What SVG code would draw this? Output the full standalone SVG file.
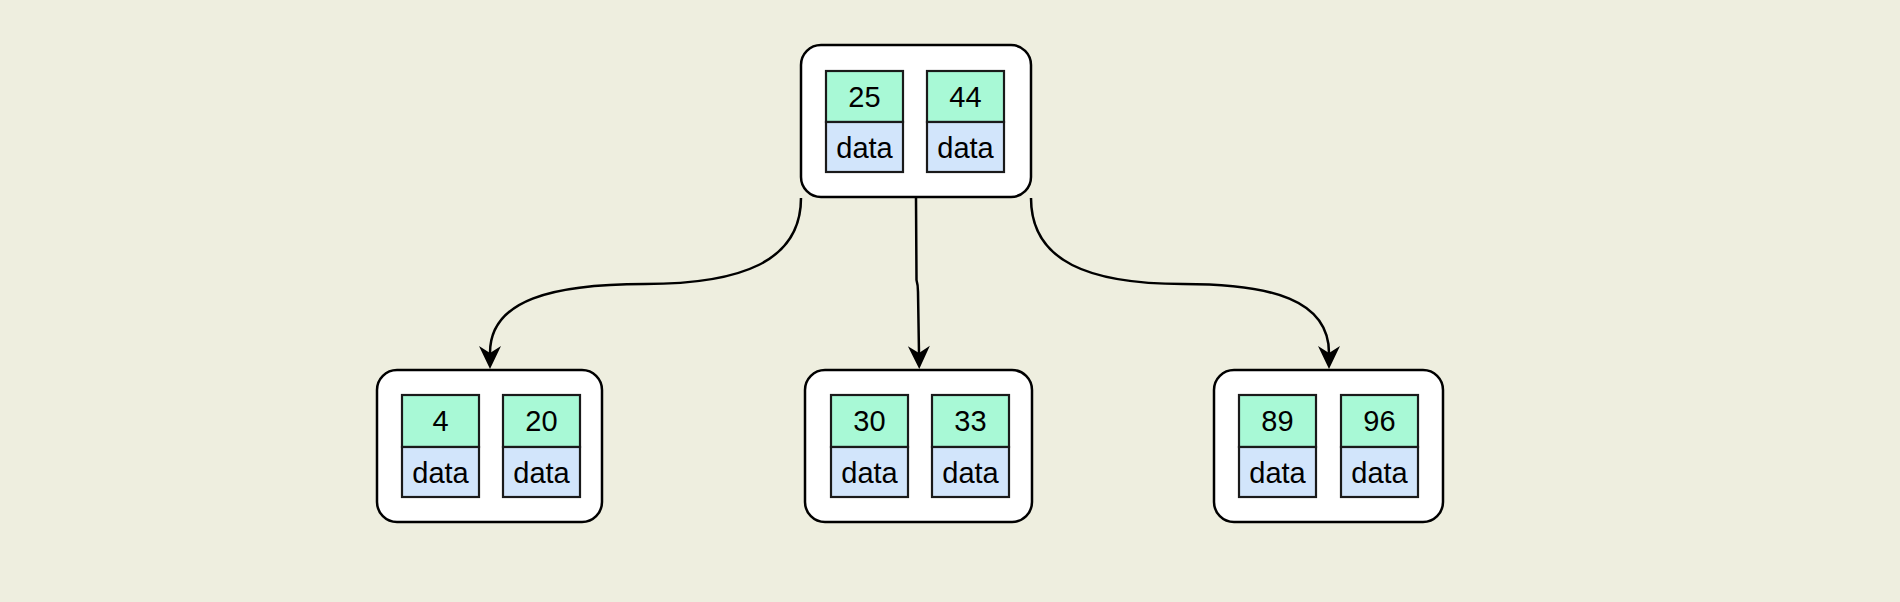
<svg xmlns="http://www.w3.org/2000/svg" width="1900" height="602" viewBox="0 0 1900 602">
<style>
.bg{fill:#eeeedf}
.outer{fill:#ffffff;stroke:#000;stroke-width:2.5}
.key{fill:#a8f9d6;stroke:#1a1a1a;stroke-width:2.2}
.data{fill:#d2e5fb;stroke:#1a1a1a;stroke-width:2.2}
.t{font-family:"Liberation Sans",Arial,sans-serif;font-size:29px;fill:#000;text-anchor:middle}
.edge{fill:none;stroke:#000;stroke-width:2.5}
</style>
<defs>
<marker id="arr" markerUnits="userSpaceOnUse" markerWidth="30" markerHeight="30" viewBox="-2 -15 30 30" refX="7" refY="0" orient="auto">
<path d="M0,-11 L23,0 L0,11 L7,0 Z" fill="#000"/>
</marker>
</defs>
<rect class="bg" x="0" y="0" width="1900" height="602"/>
<g id="connectors">
<path class="edge" d="M801,198 C801,262 740,284 645,284 C552,284 490,300 490,353" marker-end="url(#arr)"/>
<path class="edge" d="M916,198 L916.5,280 Q918,285 918,292 L919,353" marker-end="url(#arr)"/>
<path class="edge" d="M1031,198 C1031,262 1090,284 1183,284 C1272,284 1329,300 1329,353" marker-end="url(#arr)"/>
</g>
<g id="node-root">
<rect class="outer" x="801" y="45" width="230" height="152" rx="20"/>
<rect class="key" x="826" y="71" width="77" height="51"/>
<rect class="data" x="826" y="122" width="77" height="50"/>
<rect class="key" x="927" y="71" width="77" height="51"/>
<rect class="data" x="927" y="122" width="77" height="50"/>
<text class="t" x="864.5" y="106.5">25</text>
<text class="t" x="864.5" y="157.5">data</text>
<text class="t" x="965.5" y="106.5">44</text>
<text class="t" x="965.5" y="157.5">data</text>
</g>
<g id="node-left">
<rect class="outer" x="377" y="370" width="225" height="152" rx="20"/>
<rect class="key" x="402" y="395" width="77" height="52"/>
<rect class="data" x="402" y="447" width="77" height="50"/>
<rect class="key" x="503" y="395" width="77" height="52"/>
<rect class="data" x="503" y="447" width="77" height="50"/>
<text class="t" x="440.5" y="431">4</text>
<text class="t" x="440.5" y="482.5">data</text>
<text class="t" x="541.5" y="431">20</text>
<text class="t" x="541.5" y="482.5">data</text>
</g>
<g id="node-middle">
<rect class="outer" x="805" y="370" width="227" height="152" rx="20"/>
<rect class="key" x="831" y="395" width="77" height="52"/>
<rect class="data" x="831" y="447" width="77" height="50"/>
<rect class="key" x="932" y="395" width="77" height="52"/>
<rect class="data" x="932" y="447" width="77" height="50"/>
<text class="t" x="869.5" y="431">30</text>
<text class="t" x="869.5" y="482.5">data</text>
<text class="t" x="970.5" y="431">33</text>
<text class="t" x="970.5" y="482.5">data</text>
</g>
<g id="node-right">
<rect class="outer" x="1214" y="370" width="229" height="152" rx="20"/>
<rect class="key" x="1239" y="395" width="77" height="52"/>
<rect class="data" x="1239" y="447" width="77" height="50"/>
<rect class="key" x="1341" y="395" width="77" height="52"/>
<rect class="data" x="1341" y="447" width="77" height="50"/>
<text class="t" x="1277.5" y="431">89</text>
<text class="t" x="1277.5" y="482.5">data</text>
<text class="t" x="1379.5" y="431">96</text>
<text class="t" x="1379.5" y="482.5">data</text>
</g>
</svg>
